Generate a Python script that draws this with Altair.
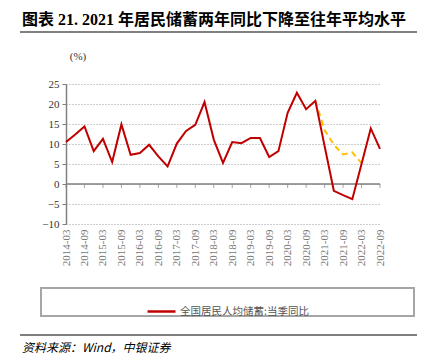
import altair as alt
import pandas as pd

dates = [
    "2014-03", "2014-06", "2014-09", "2014-12",
    "2015-03", "2015-06", "2015-09", "2015-12",
    "2016-03", "2016-06", "2016-09", "2016-12",
    "2017-03", "2017-06", "2017-09", "2017-12",
    "2018-03", "2018-06", "2018-09", "2018-12",
    "2019-03", "2019-06", "2019-09", "2019-12",
    "2020-03", "2020-06", "2020-09", "2020-12",
    "2021-03", "2021-06", "2021-09", "2021-12",
    "2022-03", "2022-06", "2022-09",
]
savings_yoy = [
    10.5, 12.4, 14.4, 8.2,
    11.3, 5.5, 14.9, 7.3,
    7.75, 9.8, 6.9, 4.4,
    10.1, 13.25, 14.8, 20.5,
    11.1, 5.3, 10.5, 10.2,
    11.5, 11.5, 6.75, 8.2,
    17.8, 22.8, 18.7, 20.8,
    9.5, -1.7, -2.8, -3.8,
    5.0, 13.9, 8.8,
]
two_year_dates = ["2020-12", "2021-03", "2021-06", "2021-09", "2021-12", "2022-03"]
two_year_yoy = [20.8, 13.5, 9.8, 7.4, 7.9, 5.2]
label_dates = dates[::2]
y_ticks = [-10, -5, 0, 5, 10, 15, 20, 25]

red_name = "全国居民人均储蓄:当季同比"
title_text = "图表 21. 2021 年居民储蓄两年同比下降至往年平均水平"
source_text = "资料来源：Wind，中银证券"
unit_text = "(%)"

serif_cjk = 'Liberation Serif, "Noto Sans CJK SC"'

df_red = pd.DataFrame({"date": dates, "value": savings_yoy, "series": red_name})
df_yel = pd.DataFrame({"date": two_year_dates, "value": two_year_yoy})
df_ticks = pd.DataFrame({"date": label_dates, "value": [0] * len(label_dates)})
df_zero = pd.DataFrame({"value": [0]})
one = pd.DataFrame({"k": [0]})

x_enc = alt.X(
    "date:O",
    scale=alt.Scale(type="point", domain=dates, padding=0),
    axis=alt.Axis(
        values=label_dates, labelAngle=270, domain=False, ticks=False, grid=False,
        labelFont="Liberation Serif", labelFontSize=11, labelColor="#777777",
        labelPadding=5,
    ),
    title=None,
)
y_enc = alt.Y(
    "value:Q",
    scale=alt.Scale(domain=[-10, 25], nice=False, zero=False),
    axis=alt.Axis(
        values=y_ticks, grid=True, gridDash=[1, 2], gridColor="#9a9a9a",
        domainColor="#808080", domainWidth=1.5, tickColor="#808080", tickSize=4,
        labelFont="Liberation Serif", labelFontSize=11, labelColor="#333333",
        labelPadding=3,
    ),
    title=None,
)

zero_rule = alt.Chart(df_zero).mark_rule(color="#808080", strokeWidth=1.5).encode(y=y_enc)
ticks = alt.Chart(df_ticks).mark_tick(
    orient="vertical", size=4, thickness=1, color="#808080", yOffset=2
).encode(x=x_enc, y=y_enc)

yellow = alt.Chart(df_yel).mark_line(
    color="#ffc000", strokeDash=[6, 4], strokeWidth=2
).encode(x=x_enc, y=y_enc)

red = alt.Chart(df_red).mark_line(strokeWidth=2).encode(
    x=x_enc, y=y_enc,
    color=alt.Color(
        "series:N",
        scale=alt.Scale(domain=[red_name], range=["#c00000"]),
        legend=alt.Legend(
            orient="none", legendX=80, legendY=212, title=None,
            symbolType="stroke", symbolSize=784, symbolStrokeWidth=2.5,
            labelFont="Noto Sans CJK SC", labelFontSize=10.5, labelColor="#555555",
            padding=0, labelOffset=3,
        ),
    ),
)

legend_box = alt.Chart(one).mark_rect(
    fillOpacity=0, stroke="#a6a6a6", strokeWidth=2
).encode(x=alt.value(-25), x2=alt.value(348), y=alt.value(204), y2=alt.value(232))

title_line = alt.Chart(one).mark_rule(color="#808080", strokeWidth=2).encode(
    x=alt.value(-46), x2=alt.value(352), y=alt.value(-52)
)
source_line = alt.Chart(one).mark_rule(color="black", strokeWidth=1).encode(
    x=alt.value(-46), x2=alt.value(352), y=alt.value(251)
)
title = alt.Chart(one).mark_text(
    align="left", baseline="middle", font=serif_cjk, fontSize=16,
    fontWeight="bold", color="black"
).encode(x=alt.value(-44), y=alt.value(-64), text=alt.value(title_text))
unit = alt.Chart(one).mark_text(
    align="center", baseline="middle", font=serif_cjk, fontSize=11, color="#333333"
).encode(x=alt.value(12), y=alt.value(-27), text=alt.value(unit_text))
source = alt.Chart(one).mark_text(
    align="left", baseline="middle", font='"Noto Sans CJK SC"', fontSize=12,
    fontStyle="italic", color="black"
).encode(x=alt.value(-44), y=alt.value(264), text=alt.value(source_text))

chart = alt.layer(
    zero_rule, yellow, red, ticks, legend_box, title_line, source_line, title, unit, source
).properties(
    width=314, height=140,
    autosize=alt.AutoSizeParams(type="none"),
    padding={"left": 58, "top": 76, "right": 37, "bottom": 132},
    background="white",
).configure_view(stroke=None)

chart.save("out.html", embed_options={"renderer": "svg", "actions": False})
